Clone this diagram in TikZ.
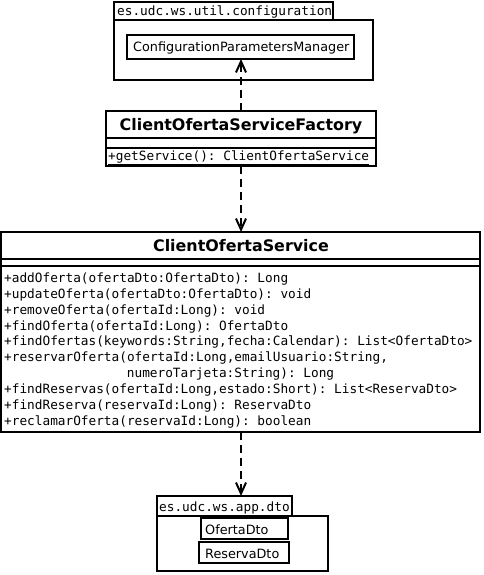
\documentclass[tikz,border=0pt]{standalone}
\usepackage{fontspec}
\setmainfont{DejaVu Sans}
\setmonofont{DejaVu Sans Mono}
\usetikzlibrary{arrows.meta}
\begin{document}
\begin{tikzpicture}[x=1pt,y=-1pt,
  box/.style={draw,line width=2pt,anchor=north west,inner sep=0pt,outer sep=0pt},
  mono/.style={inner sep=0pt,anchor=base west,font=\fontsize{12.75}{15.9}\selectfont\ttfamily},
  sans/.style={inner sep=0pt,anchor=base west,font=\fontsize{12.8}{15.9}\selectfont},
  title/.style={inner sep=0pt,anchor=base,font=\fontsize{15.9}{18}\selectfont\bfseries},
  dep/.style={line width=2pt,dash pattern=on 8pt off 5pt,-{Straight Barb[length=11pt,width=10pt,line width=2pt]}}
]
\useasboundingbox (0,0) rectangle (483,575);

% top package
\node[box,minimum width=219pt,minimum height=18pt] (ptab) at (114,2) {};
\node[box,minimum width=259pt,minimum height=60pt] (pbody) at (114,20) {};
\node[mono] (ptabtext) at (117,16) {es.udc.ws.util.configuration};
\node[box,minimum width=227pt,minimum height=24pt] (cpm) at (127,35) {};
\node[sans] (cpmtext) at (133,52) {ConfigurationParametersManager};

% factory
\node[box,minimum width=270pt,minimum height=55pt] (factory) at (106,111) {};
\draw[line width=2pt] (factory.west |- 0,138) -- (factory.east |- 0,138);
\draw[line width=2pt] (factory.west |- 0,148) -- (factory.east |- 0,148);
\node[title] (ftitle) at (241,130) {ClientOfertaServiceFactory};
\node[mono] (fm1) at (108,160) {\underline{+getService(): ClientOfertaService}};

% service
\node[box,minimum width=479pt,minimum height=200pt] (service) at (1,232) {};
\draw[line width=2pt] (service.west |- 0,259) -- (service.east |- 0,259);
\draw[line width=2pt] (service.west |- 0,266) -- (service.east |- 0,266);
\node[title] (stitle) at (241,251) {ClientOfertaService};
\node[mono] (m1) at (4,282.3) {+addOferta(ofertaDto:OfertaDto): Long};
\node[mono] (m2) at (4,298.2) {+updateOferta(ofertaDto:OfertaDto): void};
\node[mono] (m3) at (4,314.1) {+removeOferta(ofertaId:Long): void};
\node[mono] (m4) at (4,330.0) {+findOferta(ofertaId:Long): OfertaDto};
\node[mono] (m5) at (4,345.9) {+findOfertas(keywords:String,fecha:Calendar): List<OfertaDto>};
\node[mono] (m6) at (4,361.8) {+reservarOferta(ofertaId:Long,emailUsuario:String,};
\node[mono] (m6b) at (126.7,377.7) {numeroTarjeta:String): Long};
\node[mono] (m7) at (4,393.6) {+findReservas(ofertaId:Long,estado:Short): List<ReservaDto>};
\node[mono] (m8) at (4,409.5) {+findReserva(reservaId:Long): ReservaDto};
\node[mono] (m9) at (4,425.4) {+reclamarOferta(reservaId:Long): boolean};

% dto package
\node[box,minimum width=135pt,minimum height=20pt] (dtab) at (157,496) {};
\node[box,minimum width=171pt,minimum height=55pt] (dbody) at (157,516) {};
\node[mono] (dtabtext) at (159,511.7) {es.udc.ws.app.dto};
\node[box,minimum width=87pt,minimum height=21pt] (odto) at (201,518) {};
\node[sans] (odtotext) at (205,534) {OfertaDto};
\node[box,minimum width=90pt,minimum height=21pt] (rdto) at (199,542) {};
\node[sans] (rdtotext) at (205,558) {ReservaDto};

% connectors
\draw[dep] (factory.north) -- (factory.north |- cpm.south);
\draw[dep] (factory.south) -- (factory.south |- service.north);
\draw[dep] (service.south -| factory.south) -- (factory.south |- dtab.north);
\end{tikzpicture}
\end{document}
